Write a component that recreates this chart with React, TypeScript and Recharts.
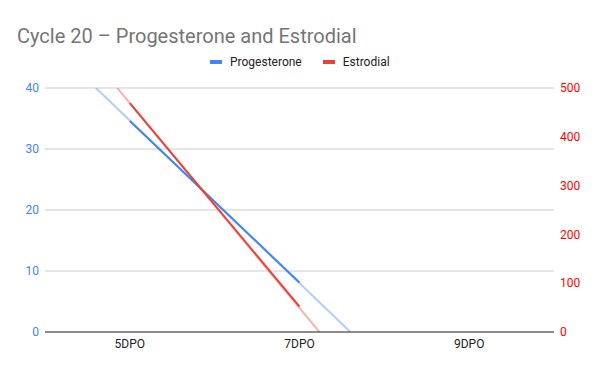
import React from 'react';
import { LineChart, Line, XAxis, YAxis, CartesianGrid } from 'recharts';

const categories = ['5DPO', '7DPO', '9DPO'];
const progesterone = [34.6, 8.1, null];
const estrodial = [469, 52, null];

// trendline end points, read where the lines leave the plot area
const progesteroneTrend = [
  { idx: -0.2, value: 40 },
  { idx: 1.3, value: 0 },
];
const estrodialTrend = [
  { idx: -0.074, value: 500 },
  { idx: 1.117, value: 0 },
];

const data = categories.map((c, i) => ({
  idx: i,
  label: c,
  progesterone: progesterone[i],
  estrodial: estrodial[i],
}));

const BLUE = '#4285f4';
const RED = '#ea4335';
const FONT = 'Roboto, Arial, sans-serif';

const LegendItem = ({ color, name, gap }: { color: string; name: string; gap: number }) => (
  <span style={{ display: 'flex', alignItems: 'center', marginRight: gap }}>
    <span style={{ width: 12, height: 4, background: color, marginRight: 8, display: 'inline-block' }} />
    {name}
  </span>
);

const App: React.FC = () => (
  <div style={{ position: 'absolute', left: 0, top: 0, width: 600, height: 371, background: '#fff' }}>
    <div
      style={{
        position: 'absolute',
        left: 17,
        top: 24,
        fontFamily: FONT,
        fontSize: 20,
        color: '#757575',
        lineHeight: '24px',
        whiteSpace: 'nowrap',
      }}
    >
      Cycle 20 – Progesterone and Estrodial
    </div>
    <div
      style={{
        position: 'absolute',
        left: 210,
        top: 54,
        height: 16,
        display: 'flex',
        alignItems: 'center',
        fontFamily: FONT,
        fontSize: 12,
        color: '#222',
        whiteSpace: 'nowrap',
      }}
    >
      <LegendItem color={BLUE} name="Progesterone" gap={21} />
      <LegendItem color={RED} name="Estrodial" gap={0} />
    </div>
    <LineChart width={600} height={371} data={data} margin={{ top: 88, right: 0, bottom: 0, left: 0 }}>
      <CartesianGrid vertical={false} stroke="#cccccc" yAxisId="left" />
      <XAxis
        dataKey="idx"
        type="number"
        domain={[-0.5, 2.5]}
        ticks={[0, 1, 2]}
        tickFormatter={(v: number) => categories[v]}
        height={39}
        tickLine={false}
        tickSize={5}
        tickMargin={2}
        axisLine={{ stroke: '#333333' }}
        tick={{ fill: '#222222', fontSize: 12, fontFamily: FONT }}
        allowDataOverflow
      />
      <YAxis
        yAxisId="left"
        orientation="left"
        domain={[0, 40]}
        ticks={[0, 10, 20, 30, 40]}
        width={45}
        axisLine={false}
        tickLine={false}
        tickSize={4}
        tickMargin={2}
        tick={{ fill: BLUE, fontSize: 12, fontFamily: FONT }}
        allowDataOverflow
      />
      <YAxis
        yAxisId="right"
        orientation="right"
        domain={[0, 500]}
        ticks={[0, 100, 200, 300, 400, 500]}
        width={46}
        axisLine={false}
        tickLine={false}
        tickSize={4}
        tickMargin={2}
        tick={{ fill: '#ff0000', fontSize: 12, fontFamily: FONT }}
        allowDataOverflow
      />
      <Line
        yAxisId="left"
        data={progesteroneTrend}
        dataKey="value"
        stroke={BLUE}
        strokeOpacity={0.4}
        strokeWidth={2}
        dot={false}
        activeDot={false}
        legendType="none"
        isAnimationActive={false}
      />
      <Line
        yAxisId="right"
        data={estrodialTrend}
        dataKey="value"
        stroke={RED}
        strokeOpacity={0.4}
        strokeWidth={2}
        dot={false}
        activeDot={false}
        legendType="none"
        isAnimationActive={false}
      />
      <Line
        yAxisId="left"
        dataKey="progesterone"
        stroke={BLUE}
        strokeWidth={2}
        dot={false}
        isAnimationActive={false}
      />
      <Line
        yAxisId="right"
        dataKey="estrodial"
        stroke={RED}
        strokeWidth={2}
        dot={false}
        isAnimationActive={false}
      />
    </LineChart>
  </div>
);

export default App;
